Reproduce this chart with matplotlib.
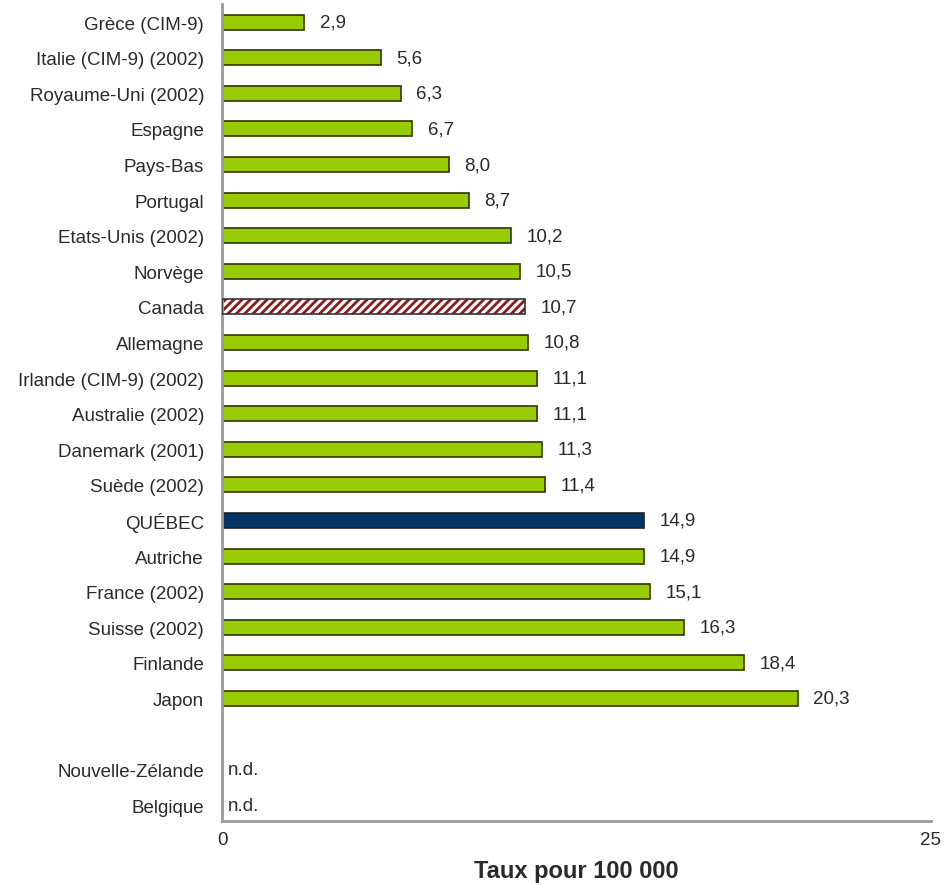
import matplotlib
matplotlib.use("Agg")
import matplotlib.pyplot as plt

plt.rcParams['font.family'] = ['Liberation Sans', 'DejaVu Sans']
plt.rcParams['hatch.linewidth'] = 2.0

countries = ["Grèce (CIM-9)", "Italie (CIM-9) (2002)", "Royaume-Uni (2002)", "Espagne",
             "Pays-Bas", "Portugal", "Etats-Unis (2002)", "Norvège", "Canada", "Allemagne",
             "Irlande (CIM-9) (2002)", "Australie (2002)", "Danemark (2001)", "Suède (2002)",
             "QUÉBEC", "Autriche", "France (2002)", "Suisse (2002)", "Finlande", "Japon"]
rates = [2.9, 5.6, 6.3, 6.7, 8.0, 8.7, 10.2, 10.5, 10.7, 10.8,
         11.1, 11.1, 11.3, 11.4, 14.9, 14.9, 15.1, 16.3, 18.4, 20.3]
missing = ["Nouvelle-Zélande", "Belgique"]
x_ticks = [0, 25]

green = "#99cc00"
navy = "#003366"
dark_red = "#8b1a1a"
text_color = "#2a2a2a"

fig = plt.figure(figsize=(9.45, 8.87), dpi=100)
ax = fig.add_axes([0.235, 0.073, 0.75, 0.921])

pos = list(range(len(countries)))
miss_pos = [len(countries) + 1 + i for i in range(len(missing))]

for p, name, v in zip(pos, countries, rates):
    if name == "Canada":
        ax.barh(p, v, height=0.42, color="white", edgecolor=dark_red, hatch="////",
                linewidth=0, zorder=2)
        ax.barh(p, v, height=0.42, color="none", edgecolor="#333333", linewidth=1.2, zorder=3)
    elif name == "QUÉBEC":
        ax.barh(p, v, height=0.42, color=navy, edgecolor="#222222", linewidth=1.2, zorder=2)
    else:
        ax.barh(p, v, height=0.42, color=green, edgecolor="#333300", linewidth=1.2, zorder=2)
    ax.text(v + 0.55, p, f"{v:.1f}".replace(".", ","), va="center", ha="left",
            fontsize=13.5, color=text_color)

for p in miss_pos:
    ax.text(0.2, p, "n.d.", va="center", ha="left", fontsize=13.5, color=text_color)

ax.set_yticks(pos + miss_pos)
ax.set_yticklabels(countries + missing, fontsize=13.5, color=text_color)
ax.tick_params(axis="y", length=0, pad=13)
ax.set_xticks(x_ticks)
ax.set_xticklabels([str(t) for t in x_ticks], fontsize=13.5, color=text_color)
ax.tick_params(axis="x", length=0, pad=7)

ax.set_xlim(0, 25)
ax.set_ylim(22.45, -0.5)

for side in ["top", "right"]:
    ax.spines[side].set_visible(False)
for side in ["left", "bottom"]:
    ax.spines[side].set_color("#999999")
    ax.spines[side].set_linewidth(2)

ax.set_xlabel("Taux pour 100 000", fontsize=17, fontweight="bold", color=text_color, labelpad=8)

fig.savefig("out.png", dpi=100)
